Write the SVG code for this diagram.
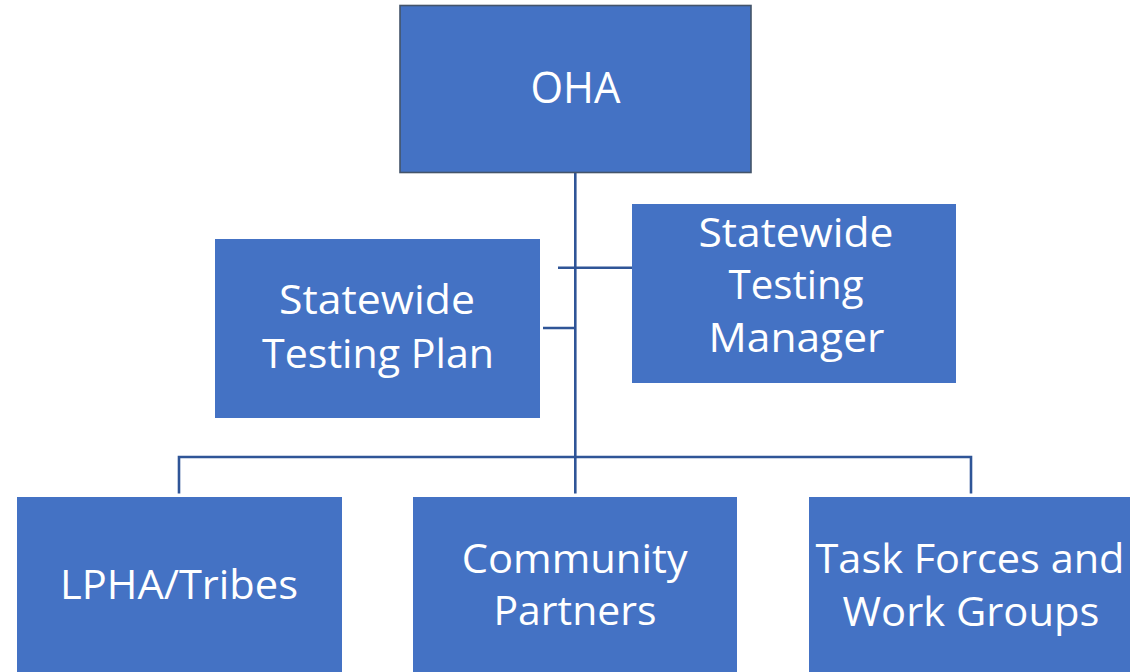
<svg xmlns="http://www.w3.org/2000/svg" width="1130" height="672" viewBox="0 0 1130 672">
  <style>
    .box { fill: #4472C4; }
    .top { fill: #4472C4; stroke: #44546A; stroke-width: 1.6; }
    .lbl { fill: #FFFFFF; font-family: "Open Sans", "Liberation Sans", sans-serif; font-size: 41px; text-anchor: middle; }
    .conn { fill: none; stroke: #2F5597; stroke-width: 2.6; }
  </style>
  <rect width="1130" height="672" fill="#FFFFFF"/>

  <!-- connectors -->
  <g id="connectors">
    <line class="conn" x1="575.3" y1="172" x2="575.3" y2="493.5"/>
    <line class="conn" x1="543" y1="328" x2="575.3" y2="328"/>
    <line class="conn" x1="558" y1="267.7" x2="632" y2="267.7"/>
    <polyline class="conn" points="179,493.5 179,457 971,457 971,493.5"/>
  </g>

  <g id="node-oha">
    <rect class="top" x="400" y="5.5" width="351" height="167"/>
    <text class="lbl" x="575.5" y="103" style="font-size:43px" textLength="90" lengthAdjust="spacingAndGlyphs">OHA</text>
  </g>

  <g id="node-testing-plan">
    <rect class="box" x="215" y="239" width="325" height="179"/>
    <text class="lbl" x="377" y="314" textLength="196" lengthAdjust="spacingAndGlyphs">Statewide</text>
    <text class="lbl" x="378" y="367.5" textLength="232" lengthAdjust="spacingAndGlyphs">Testing Plan</text>
  </g>

  <g id="node-testing-manager">
    <rect class="box" x="632" y="204" width="324" height="179"/>
    <text class="lbl" x="796" y="246.7" textLength="195" lengthAdjust="spacingAndGlyphs">Statewide</text>
    <text class="lbl" x="796" y="299.3" textLength="135" lengthAdjust="spacingAndGlyphs">Testing</text>
    <text class="lbl" x="796.5" y="351.7" textLength="176" lengthAdjust="spacingAndGlyphs">Manager</text>
  </g>

  <g id="node-lpha">
    <rect class="box" x="17" y="497" width="325" height="175"/>
    <text class="lbl" x="179" y="599" textLength="238" lengthAdjust="spacingAndGlyphs">LPHA/Tribes</text>
  </g>

  <g id="node-community">
    <rect class="box" x="413" y="497" width="324" height="175"/>
    <text class="lbl" x="574.7" y="572.7" textLength="226" lengthAdjust="spacingAndGlyphs">Community</text>
    <text class="lbl" x="575" y="625" textLength="163" lengthAdjust="spacingAndGlyphs">Partners</text>
  </g>

  <g id="node-taskforces">
    <rect class="box" x="809" y="497" width="321" height="175"/>
    <text class="lbl" x="970" y="572.7" textLength="309" lengthAdjust="spacingAndGlyphs">Task Forces and</text>
    <text class="lbl" x="971" y="626" textLength="257" lengthAdjust="spacingAndGlyphs">Work Groups</text>
  </g>
</svg>
